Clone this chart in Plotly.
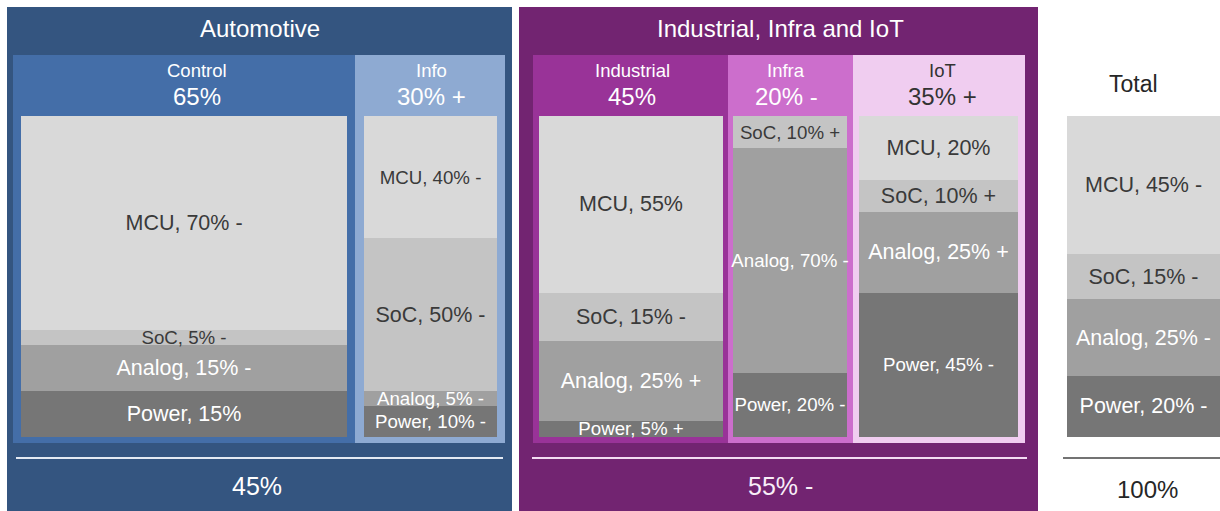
import plotly.graph_objects as go

# ---------------- data ----------------
categories = ["Control", "Info", "Industrial", "Infra", "IoT", "Total"]
segments = ["Power", "Analog", "SoC", "MCU"]          # bottom -> top
mcu = [70, 40, 55, 0, 20, 45]
soc = [5, 50, 15, 10, 10, 15]
analog = [15, 5, 25, 70, 25, 25]
power = [15, 10, 5, 20, 45, 20]
mcu_trend = ["-", "-", "", "", "", "-"]
soc_trend = ["-", "-", "-", "+", "+", "-"]
analog_trend = ["-", "-", "+", "-", "+", "-"]
power_trend = ["", "-", "+", "-", "-", "-"]

group_titles = ["Automotive", "Industrial, Infra and IoT"]
group_totals = ["45%", "55% -"]
sub_names = ["Control", "Info", "Industrial", "Infra", "IoT"]
sub_shares = ["65%", "30% +", "45%", "20% -", "35% +"]
total_title = "Total"
total_value = "100%"

# ---------------- layout helpers (pixel geometry) ----------------
W, H = 1220, 511
def py(v):
    return 1 - v / H

bar_x = [184, 430.5, 631, 790, 938.5, 1143.5]
bar_w = [326, 133, 184, 114, 159, 153]
BAR_TOP, BAR_BOT = 116, 437

L, S, T = 21.5, 18.7, 21.5
sizes = {
    "MCU": [L, S, L, S, L, T],
    "SoC": [S, L, L, S, L, T],
    "Analog": [L, S, L, S, L, T],
    "Power": [L, S, S, S, S, T],
}
fills = {"MCU": "#d9d9d9", "SoC": "#c4c4c4", "Analog": "#a0a0a0", "Power": "#767676"}
txtcol = {"MCU": "#3a3a3a", "SoC": "#3a3a3a", "Analog": "#ffffff", "Power": "#ffffff"}
vals = {"MCU": mcu, "SoC": soc, "Analog": analog, "Power": power}
trends = {"MCU": mcu_trend, "SoC": soc_trend, "Analog": analog_trend, "Power": power_trend}

FONT = "Liberation Sans, Arial, Helvetica, sans-serif"

fig = go.Figure()
for seg in segments:
    v = vals[seg]
    texts = []
    for val, tr in zip(v, trends[seg]):
        if val == 0:
            texts.append("")
        else:
            texts.append(f"{seg}, {val}%" + (f" {tr}" if tr else ""))
    fig.add_trace(go.Bar(
        x=bar_x, y=v, width=bar_w, name=seg,
        marker=dict(color=fills[seg], line=dict(width=0)),
        text=texts, textposition="inside", insidetextanchor="middle",
        textangle=0, constraintext="none",
        textfont=dict(family=FONT, size=sizes[seg], color=[txtcol[seg]] * len(v)),
        hoverinfo="skip", showlegend=False, cliponaxis=False,
    ))

shapes = []
def rect(x0, x1, y0, y1, color):
    shapes.append(dict(type="rect", xref="x", yref="paper", x0=x0, x1=x1,
                       y0=py(y1), y1=py(y0), fillcolor=color,
                       line=dict(width=0), layer="below"))

def hline(x0, x1, y, color, w):
    shapes.append(dict(type="line", xref="x", yref="paper", x0=x0, x1=x1,
                       y0=py(y), y1=py(y), line=dict(color=color, width=w), layer="below"))

# group panels
rect(7, 512, 7, 520, "#345580")
rect(519, 1038, 7, 520, "#722471")
# sub panels
sub_x = [(13, 355), (355, 505), (533, 728), (728, 853), (853, 1025)]
sub_col = ["#446ea8", "#8eaad2", "#993398", "#cc6ecc", "#f0cdf0"]
for (a, b), c in zip(sub_x, sub_col):
    rect(a, b, 55, 443, c)
hline(16, 503, 458, "#e4eaf3", 2)
hline(532, 1027, 458, "#f3dcf3", 2)
hline(1063, 1225, 458, "#444444", 1.5)

ann = []
def text(x, y, s, size, color):
    ann.append(dict(x=x, y=py(y), xref="x", yref="paper", text=s, showarrow=False,
                    xanchor="center", yanchor="middle",
                    font=dict(family=FONT, size=size, color=color)))

text(260, 28, group_titles[0], 24, "#ffffff")
text(780, 28, group_titles[1], 24, "#ffffff")
sub_cx = [197, 431, 632, 786, 942]
sub_tc = ["#ffffff", "#ffffff", "#ffffff", "#ffffff", "#333333"]
for cx, n, sh, c in zip(sub_cx, sub_names, sub_shares, sub_tc):
    text(cx, 70, n, 18.5, c)
    text(cx, 96, sh, 24, c)
text(1133, 84, total_title, 23, "#262626")
text(257, 486, group_totals[0], 25, "#ffffff")
text(780, 486, group_totals[1], 25, "#f8eef8")
text(1147, 489, total_value, 24, "#262626")

fig.update_layout(
    width=W, height=H, autosize=False,
    margin=dict(l=0, r=0, t=0, b=0, pad=0),
    paper_bgcolor="#ffffff", plot_bgcolor="rgba(0,0,0,0)",
    barmode="stack", barnorm="percent",
    xaxis=dict(range=[0, W], domain=[0, 1], visible=False, fixedrange=True),
    yaxis=dict(range=[0, 100], domain=[py(BAR_BOT), py(BAR_TOP)], visible=False, fixedrange=True),
    shapes=shapes, annotations=ann,
    font=dict(family=FONT),
)

fig.write_html("out.html", config={"displayModeBar": False, "staticPlot": True},
               post_script="document.body.style.margin='0';document.body.style.overflow='hidden';")
